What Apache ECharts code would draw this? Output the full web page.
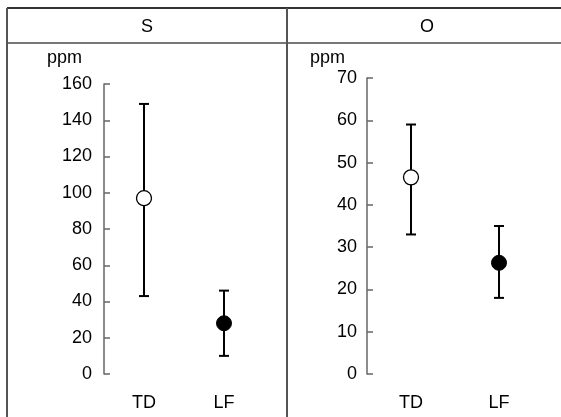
<!DOCTYPE html>
<html>
<head>
<meta charset="utf-8">
<script src="https://cdn.jsdelivr.net/npm/echarts@6/dist/echarts.min.js"></script>
<style>
  html, body { margin: 0; padding: 0; background: #fff; }
  #chart { width: 561px; height: 417px; }
</style>
</head>
<body>
<div id="chart"></div>
<script>
// categories
var groups = ['TD', 'LF']
var panels = ['S', 'O']

// S panel (ppm): mean, lower and upper end of error bar
var sMean = [97, 28]
var sLow = [43, 10]
var sHigh = [149, 46]

// O panel (ppm)
var oMean = [46.5, 26.3]
var oLow = [33, 18]
var oHigh = [59, 35]

// y axis ticks
var sTicks = { min: 0, max: 160, interval: 20 }
var oTicks = { min: 0, max: 70, interval: 10 }

var font = "'Liberation Sans', Arial, sans-serif"
var fontSize = 18
var frameColor = '#555'

var chart = echarts.init(document.getElementById('chart'))

function errorBars(low, high, idx) {
  return {
    type: 'custom',
    xAxisIndex: idx,
    yAxisIndex: idx,
    silent: true,
    z: 2,
    data: groups.map(function (g, i) { return [i, low[i], high[i]] }),
    renderItem: function (params, api) {
      var lo = api.coord([api.value(0), api.value(1)])
      var hi = api.coord([api.value(0), api.value(2)])
      var cap = 5
      var style = { stroke: '#000', lineWidth: 2 }
      return {
        type: 'group',
        children: [
          { type: 'line', shape: { x1: lo[0], y1: lo[1], x2: hi[0], y2: hi[1] }, style: style },
          { type: 'line', shape: { x1: hi[0] - cap, y1: hi[1], x2: hi[0] + cap, y2: hi[1] }, style: style },
          { type: 'line', shape: { x1: lo[0] - cap, y1: lo[1], x2: lo[0] + cap, y2: lo[1] }, style: style }
        ]
      }
    }
  }
}

function means(vals, idx) {
  return {
    type: 'scatter',
    xAxisIndex: idx,
    yAxisIndex: idx,
    symbol: 'circle',
    symbolSize: 15,
    z: 3,
    data: vals.map(function (v, i) {
      return {
        value: [i, v],
        // TD open circle, LF filled
        itemStyle: i === 0
          ? { color: '#fff', borderColor: '#000', borderWidth: 1.3, opacity: 1 }
          : { color: '#000', borderColor: '#000', borderWidth: 1, opacity: 1 }
      }
    })
  }
}

function yAxis(idx, ticks, labelMargin, nameGap) {
  return {
    type: 'value',
    gridIndex: idx,
    min: ticks.min,
    max: ticks.max,
    interval: ticks.interval,
    name: 'ppm',
    nameLocation: 'end',
    nameGap: nameGap,
    nameTextStyle: { color: '#000', fontSize: fontSize, fontFamily: font, align: 'right', padding: [0, 22, 0, 0] },
    axisLine: { show: true, lineStyle: { color: '#666', width: 1.5 } },
    axisTick: { show: true, inside: true, length: 6, lineStyle: { color: '#666', width: 1.5 } },
    axisLabel: { color: '#000', fontSize: fontSize, fontFamily: font, margin: labelMargin },
    splitLine: { show: false }
  }
}

function xAxis(idx) {
  return {
    type: 'category',
    gridIndex: idx,
    data: groups,
    boundaryGap: true,
    axisLine: { show: false },
    axisTick: { show: false },
    axisLabel: { color: '#000', fontSize: fontSize, fontFamily: font, margin: 20 },
    splitLine: { show: false }
  }
}

var option = {
  animation: false,
  backgroundColor: '#fff',
  grid: [
    { left: 104, top: 84, width: 160, height: 290 },
    { left: 367, top: 78, width: 176, height: 296 }
  ],
  xAxis: [xAxis(0), xAxis(1)],
  yAxis: [yAxis(0, sTicks, 12, 17), yAxis(1, oTicks, 10, 11)],
  graphic: [
    // frame of the panels
    { type: 'line', shape: { x1: 7, y1: 8, x2: 561, y2: 8 }, style: { stroke: '#333', lineWidth: 2 } },
    { type: 'line', shape: { x1: 7, y1: 43, x2: 561, y2: 43 }, style: { stroke: '#777', lineWidth: 2 } },
    { type: 'line', shape: { x1: 7, y1: 8, x2: 7, y2: 417 }, style: { stroke: frameColor, lineWidth: 2 } },
    { type: 'line', shape: { x1: 287, y1: 8, x2: 287, y2: 417 }, style: { stroke: frameColor, lineWidth: 2 } },
    { type: 'text', x: 147, y: 27, style: { text: panels[0], fill: '#000', font: fontSize + 'px ' + font, textAlign: 'center', textVerticalAlign: 'middle' } },
    { type: 'text', x: 427, y: 27, style: { text: panels[1], fill: '#000', font: fontSize + 'px ' + font, textAlign: 'center', textVerticalAlign: 'middle' } }
  ],
  series: [
    errorBars(sLow, sHigh, 0),
    means(sMean, 0),
    errorBars(oLow, oHigh, 1),
    means(oMean, 1)
  ]
}

chart.setOption(option, true)
</script>
</body>
</html>
